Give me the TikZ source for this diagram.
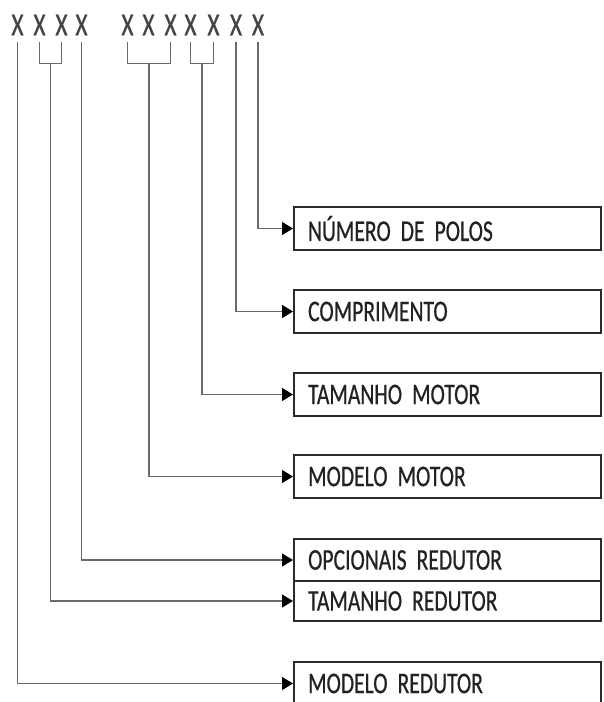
\documentclass[tikz,border=0pt]{standalone}
\usepackage{fontspec}
\setmainfont{Carlito}
\newfontfamily\boxfont[FakeStretch=0.72,FakeBold=0.6]{Carlito}
\newfontfamily\xfont[FakeStretch=0.72,FakeBold=0.8]{Carlito}
\usetikzlibrary{arrows.meta}
\definecolor{conncol}{HTML}{6A6A6A}
\definecolor{boxcol}{HTML}{2A2A2A}
\definecolor{txtcol}{HTML}{222222}
\tikzset{
  xlabel/.style={font=\xfont\fontsize{32}{32}\selectfont, text=txtcol!85!white, inner sep=0pt, minimum height=34pt, anchor=center},
  fieldbox/.style={draw=boxcol, line width=2.2pt, anchor=west, minimum width=307pt, minimum height=43pt,
    text width=279pt, inner xsep=14pt, inner ysep=0pt, align=left, text=txtcol,
    font={\boxfont\fontsize{30}{30}\selectfont\spaceskip=5.5pt plus 1pt minus 1pt\relax}},
  conn/.style={draw=conncol, line width=1.4pt},
  arr/.style={conn, -{Triangle[length=11pt,width=13pt,color=black]}}
}
\begin{document}
\begin{tikzpicture}[x=1pt,y=-1pt]
\useasboundingbox (0,0) rectangle (603,702);
\fill[white] (0,0) rectangle (603,702);
% X characters
\node[xlabel] (x1) at (17.5,25) {X};
\node[xlabel] (x2) at (39.5,25) {X};
\node[xlabel] (x3) at (61.5,25) {X};
\node[xlabel] (x4) at (81.5,25) {X};
\node[xlabel] (x5) at (127.5,25) {X};
\node[xlabel] (x6) at (148.5,25) {X};
\node[xlabel] (x7) at (170.5,25) {X};
\node[xlabel] (x8) at (190.5,25) {X};
\node[xlabel] (x9) at (213.5,25) {X};
\node[xlabel] (x10) at (236,25) {X};
\node[xlabel] (x11) at (258,25) {X};
% boxes
\node[fieldbox] (b1) at (293,228.5) {NÚMERO DE POLOS};
\node[fieldbox] (b2) at (293,311.5) {COMPRIMENTO};
\node[fieldbox] (b3) at (293,394.5) {TAMANHO MOTOR};
\node[fieldbox] (b4) at (293,476.5) {MODELO MOTOR};
\node[fieldbox, minimum height=42pt] (b5) at (293,560) {OPCIONAIS REDUTOR};
\node[fieldbox, minimum height=40pt] (b6) at (293,601) {TAMANHO REDUTOR};
\node[fieldbox] (b7) at (293,683.5) {MODELO REDUTOR};
% brackets
\draw[conn] (x2.south) -- ++(0,21) coordinate (k2) -| (x3.south);
\draw[conn] (x5.south) -- ++(0,21) coordinate (k5) -| (x7.south);
\draw[conn] (x8.south) -- ++(0,21) coordinate (k8) -| (x9.south);
\coordinate (m1) at ([xshift=11pt]k2);
\coordinate (m2) at ([xshift=21.5pt]k5);
\coordinate (m3) at ([xshift=11.5pt]k8);
% connectors
\draw[arr] (x11.south) |- (b1.west);
\draw[arr] (x10.south) |- (b2.west);
\draw[arr] (m3) |- (b3.west);
\draw[arr] (m2) |- (b4.west);
\draw[arr] (x4.south) |- (b5.west);
\draw[arr] (m1) |- (b6.west);
\draw[arr] (x1.south) |- (b7.west);
\end{tikzpicture}
\end{document}
